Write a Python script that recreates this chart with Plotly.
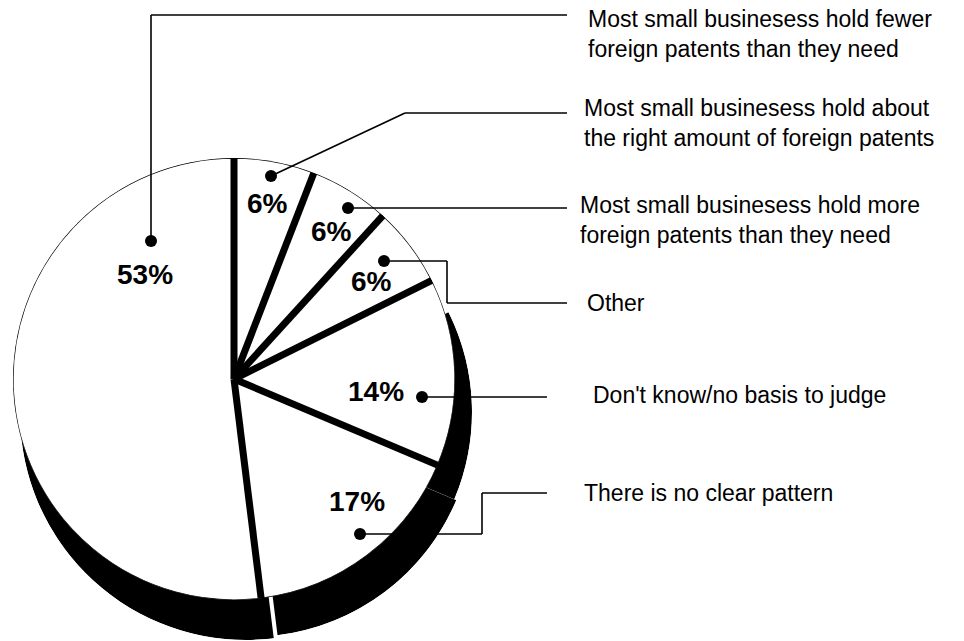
import plotly.graph_objects as go

# ---- data -------------------------------------------------------------
categories = [
    "Most small businesess hold about<br>the right amount of foreign patents",
    "Most small businesess hold more<br>foreign patents than they need",
    "Other",
    "Don't know/no basis to judge",
    "There is no clear pattern",
    "Most small businesess hold fewer<br>foreign patents than they need",
]
values = [6, 6, 6, 14, 17, 53]
pct_labels = [f"{v}%" for v in values]

# ---- geometry / style -------------------------------------------------
W, H = 964, 641
CX, CY, R = 234, 379, 221          # pie centre and radius in px

# per-slice drop shadow: (slice index, dx, dy, extra radius)
shadow_specs = [(3, 14, 33, 3), (4, 16, 34, 3), (5, 12, 35, 5)]

# percentage label centres (px)
pct_pos = [(267, 203), (331, 231), (371, 281), (376, 391), (357, 501), (145, 274)]
# leader-line dots and paths (px)
dot_pos = [(271, 176), (348, 208), (384, 261), (422, 397), (360, 534), (151, 241)]
leader_paths = [
    [(271, 176), (405, 113), (567, 113)],
    [(348, 208), (567, 208)],
    [(384, 261), (447, 261), (447, 303), (567, 303)],
    [(422, 397), (547, 397)],
    [(360, 534), (482, 534), (482, 493), (547, 493)],
    [(151, 241), (151, 15), (567, 15)],
]
# category text: left x, vertical centre (px)
text_pos = [(582, 123), (578, 220), (585, 303), (591, 395), (582, 493), (586, 34)]

FONT = "Liberation Sans, Arial, Helvetica, sans-serif"

# ---- angles from the values -------------------------------------------
total = sum(values)
widths = [v / total * 360 for v in values]
starts = []
acc = 0.0
for w in widths:
    starts.append(acc)
    acc += w
centers = [s + w / 2 for s, w in zip(starts, widths)]
boundaries = starts[:]  # every slice edge (0 == 360)


def px_x(x):
    return x / W


def px_y(y):
    return 1 - y / H


def domain(cx, cy, r):
    return dict(x=[px_x(cx - r), px_x(cx + r)], y=[px_y(cy + r), px_y(cy - r)])


polar_common = dict(
    bgcolor="rgba(0,0,0,0)",
    bargap=0,
    angularaxis=dict(rotation=90, direction="clockwise", visible=False),
    radialaxis=dict(range=[0, 1], visible=False),
)

fig = go.Figure()
layout_polars = {}

# shadows (drawn first, underneath)
for n, (i, dx, dy, dk) in enumerate(shadow_specs, start=1):
    name = "polar" if n == 1 else f"polar{n}"
    fig.add_trace(go.Barpolar(
        r=[1], theta=[centers[i]], width=[widths[i]],
        marker=dict(color="black", line=dict(width=0)),
        subplot=name, hoverinfo="skip", showlegend=False,
    ))
    layout_polars[name] = dict(polar_common, domain=domain(CX + dx, CY + dy, R + dk))

# main pie
main = f"polar{len(shadow_specs) + 1}"
fig.add_trace(go.Barpolar(
    r=[1] * len(values), theta=centers, width=widths,
    marker=dict(color="white", line=dict(color="black", width=1.3)),
    subplot=main, hoverinfo="skip", showlegend=False,
))
sep_r, sep_t = [], []
for b in boundaries:
    sep_r += [0, 1, None]
    sep_t += [b, b, None]
fig.add_trace(go.Scatterpolar(
    r=sep_r, theta=sep_t, mode="lines",
    line=dict(color="black", width=7),
    subplot=main, hoverinfo="skip", showlegend=False,
))
layout_polars[main] = dict(polar_common, domain=domain(CX, CY, R))

shapes = []
for path in leader_paths:
    for (x0, y0), (x1, y1) in zip(path[:-1], path[1:]):
        shapes.append(dict(type="line", xref="paper", yref="paper",
                           x0=px_x(x0), y0=px_y(y0), x1=px_x(x1), y1=px_y(y1),
                           line=dict(color="black", width=1.6), layer="above"))
for (x, y) in dot_pos:
    rd = 6
    shapes.append(dict(type="circle", xref="paper", yref="paper",
                       x0=px_x(x - rd), x1=px_x(x + rd), y0=px_y(y + rd), y1=px_y(y - rd),
                       fillcolor="black", line=dict(color="black", width=0), layer="above"))

annotations = []
for txt, (x, y) in zip(pct_labels, pct_pos):
    annotations.append(dict(text=f"<b>{txt}</b>", x=px_x(x), y=px_y(y),
                            xref="paper", yref="paper", showarrow=False,
                            xanchor="center", yanchor="middle",
                            font=dict(family=FONT, size=28, color="black")))
for txt, (x, y) in zip(categories, text_pos):
    annotations.append(dict(text=txt, x=px_x(x), y=px_y(y),
                            xref="paper", yref="paper", showarrow=False,
                            xanchor="left", yanchor="middle", align="left",
                            font=dict(family=FONT, size=23, color="black")))

fig.update_layout(
    width=W, height=H,
    margin=dict(l=0, r=0, t=0, b=0),
    paper_bgcolor="white", plot_bgcolor="white",
    showlegend=False,
    shapes=shapes, annotations=annotations,
    **layout_polars,
)

fig.write_html("out.html", config={"displayModeBar": False})
